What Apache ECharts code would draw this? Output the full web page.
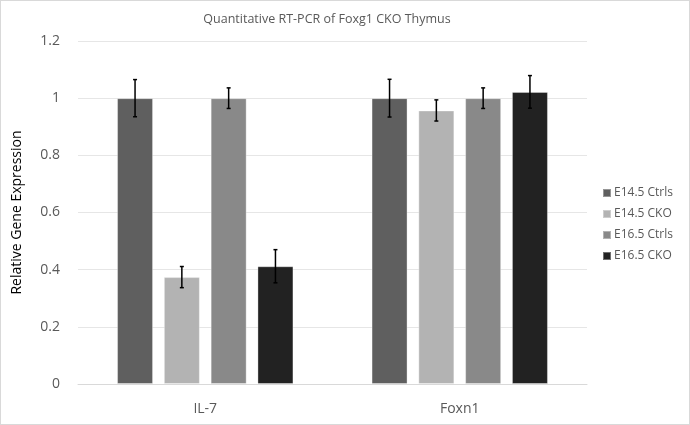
<!DOCTYPE html>
<html>
<head>
<meta charset="utf-8">
<script src="https://cdn.jsdelivr.net/npm/echarts@6/dist/echarts.min.js"></script>
<style>
html,body{margin:0;padding:0;background:#fff;}
#frame{position:absolute;left:0;top:0;width:688px;height:423px;border:1px solid #d9d9d9;}
#chart{width:690px;height:425px;position:absolute;left:0;top:0;}
</style>
</head>
<body>
<div id="frame"></div>
<div id="chart"></div>
<script>
const categories = ['IL-7', 'Foxn1'];
const seriesNames = ['E14.5 Ctrls', 'E14.5 CKO', 'E16.5 Ctrls', 'E16.5 CKO'];
const e145Ctrls = [1.0, 1.0];
const e145CKO = [0.374, 0.957];
const e165Ctrls = [1.0, 1.0];
const e165CKO = [0.412, 1.022];
const e145CtrlsErr = [0.065, 0.066];
const e145CKOErr = [0.037, 0.037];
const e165CtrlsErr = [0.036, 0.036];
const e165CKOErr = [0.058, 0.057];
const yTicks = [0, 0.2, 0.4, 0.6, 0.8, 1, 1.2];

const values = [e145Ctrls, e145CKO, e165Ctrls, e165CKO];
const errs = [e145CtrlsErr, e145CKOErr, e165CtrlsErr, e165CKOErr];
const colors = ['#5f5f5f', '#b3b3b3', '#898989', '#222222'];
const BAR_W = 36, GAP = 0.3;

const chart = echarts.init(document.getElementById('chart'));
const series = [];
values.forEach((v, i) => {
  series.push({
    name: seriesNames[i], type: 'bar', data: v,
    barWidth: BAR_W, barGap: (GAP * 100) + '%',
    itemStyle: { color: colors[i], borderColor: 'rgba(255,255,255,0.35)', borderWidth: 1 },
    z: 2
  });
});
values.forEach((v, i) => {
  const data = v.map((val, k) => [k, val - errs[i][k], val + errs[i][k]]);
  series.push({
    type: 'custom', name: seriesNames[i] + ' err', z: 5, silent: true,
    data: data,
    encode: { x: 0, y: [1, 2] },
    renderItem: function (params, api) {
      const off = (i - 1.5) * BAR_W * (1 + GAP);
      const lo = api.coord([api.value(0), api.value(1)]);
      const hi = api.coord([api.value(0), api.value(2)]);
      const x = lo[0] + off;
      const c = 2;
      const st = { stroke: '#000', lineWidth: 1.5 };
      return { type: 'group', children: [
        { type: 'line', shape: { x1: x, y1: lo[1], x2: x, y2: hi[1] }, style: st },
        { type: 'line', shape: { x1: x - c, y1: lo[1], x2: x + c, y2: lo[1] }, style: st },
        { type: 'line', shape: { x1: x - c, y1: hi[1], x2: x + c, y2: hi[1] }, style: st }
      ]};
    }
  });
});

chart.setOption({
  animation: false,
  title: {
    text: 'Quantitative RT-PCR of Foxg1 CKO Thymus',
    left: 322, top: 8, textAlign: 'center',
    textStyle: { fontFamily: 'Open Sans', fontSize: 12.5, fontWeight: 'normal', color: '#595959' }
  },
  legend: {
    data: seriesNames, orient: 'vertical', left: 597, top: 182,
    itemWidth: 8, itemHeight: 8, itemGap: 9, icon: 'rect',
    textStyle: { fontFamily: 'Open Sans', fontSize: 12, color: '#595959', padding: [0, 0, 0, -2] }
  },
  grid: { left: 78, right: 103, top: 41, bottom: 41 },
  xAxis: {
    type: 'category', data: categories,
    axisLine: { lineStyle: { color: '#d9d9d9', width: 1 } },
    axisTick: { show: false },
    axisLabel: { fontFamily: 'Open Sans', fontSize: 14, color: '#595959', margin: 18 }
  },
  yAxis: {
    type: 'value', min: 0, max: 1.2, interval: 0.2,
    name: 'Relative Gene Expression', nameLocation: 'middle', nameGap: 54,
    nameTextStyle: { fontFamily: 'Open Sans', fontSize: 14, color: '#000' },
    axisLine: { show: false }, axisTick: { show: false },
    splitLine: { lineStyle: { color: '#e6e6e6', width: 1 } },
    axisLabel: {
      fontFamily: 'Open Sans', fontSize: 14, color: '#595959', margin: 18,
      formatter: function (v) {
        const t = yTicks.find(x => Math.abs(x - v) < 1e-9);
        if (t === undefined) return '';
        return t === 0 ? '0' : (t === 1 ? '1' : t.toFixed(1));
      }
    }
  },
  series: series
});
</script>
</body>
</html>
